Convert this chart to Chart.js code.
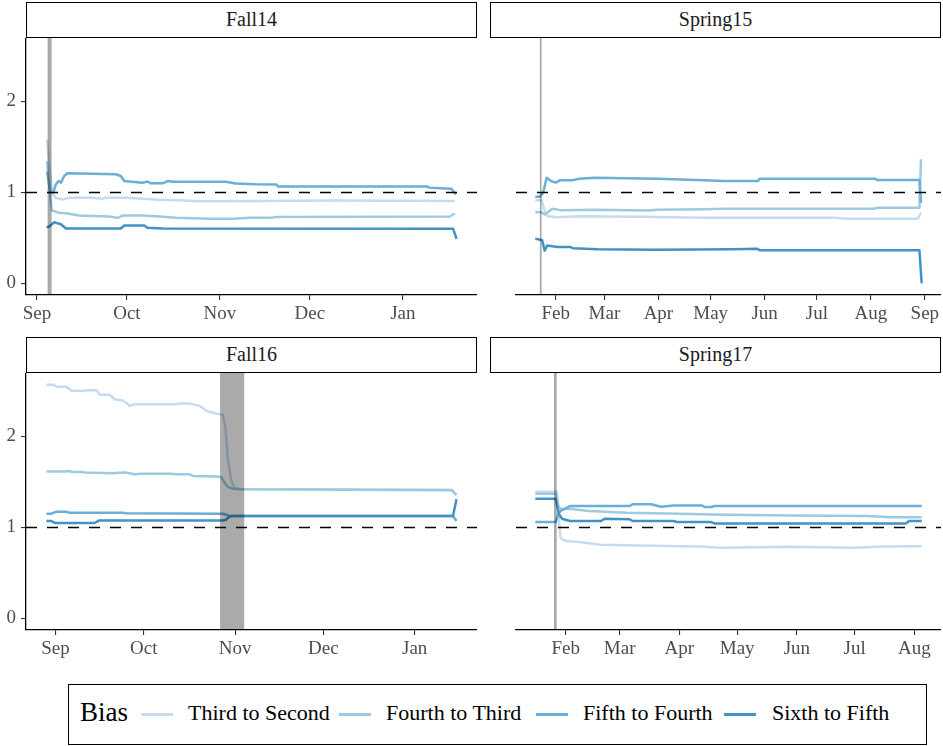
<!DOCTYPE html>
<html>
<head>
<meta charset="utf-8">
<script src="https://cdn.jsdelivr.net/npm/chart.js@4.4.1/dist/chart.umd.min.js"></script>
<style>
  html, body { margin: 0; padding: 0; background: #fff; }
  body { width: 943px; height: 746px; position: relative; overflow: hidden; }
  canvas { position: absolute; }
  .strip { position: absolute; box-sizing: border-box; border: 1.5px solid #000;
           background: #fff; color: #1a1a1a; font-size: 20px; text-align: center;
           line-height: 33px; height: 36px; }
  #legend { position: absolute; left: 68px; top: 684px; width: 859px; height: 61px;
            box-sizing: border-box; border: 1.3px solid #000; background: #fff; }
  #legend .title { position: absolute; left: 11px; top: 12px; font-size: 27px; color: #000; }
  #legend .swatch { position: absolute; top: 28px; width: 32px; height: 2.6px; }
  #legend .label { position: absolute; top: 15px; font-size: 22px; color: #000; white-space: nowrap; }
</style>
</head>
<body>

<div class="strip" style="left:26px; top:2px; width:451px;">Fall14</div>
<div class="strip" style="left:490px; top:2px; width:451px;">Spring15</div>
<div class="strip" style="left:26px; top:337px; width:451px;">Fall16</div>
<div class="strip" style="left:490px; top:337px; width:451px;">Spring17</div>

<canvas id="fall14" width="480" height="300" style="left:0; top:38px;"></canvas>
<canvas id="spring15" width="453" height="300" style="left:490px; top:38px;"></canvas>
<canvas id="fall16" width="480" height="300" style="left:0; top:373px;"></canvas>
<canvas id="spring17" width="453" height="300" style="left:490px; top:373px;"></canvas>

<div id="legend"><span class="title">Bias</span></div>

<script>
// Series names (legend order) and the reference level
const seriesNames = ['Third to Second', 'Fourth to Third', 'Fifth to Fourth', 'Sixth to Fifth'];
const referenceLevel = 1;

// Month ticks: days since the first of the semester's starting month
const fallMonthDays = [0, 30, 61, 91, 122];
const fallMonthLabels = ['Sep', 'Oct', 'Nov', 'Dec', 'Jan'];
const spring15MonthDays = [0, 28, 59, 89, 120, 150, 181, 212];
const spring15MonthLabels = ['Feb', 'Mar', 'Apr', 'May', 'Jun', 'Jul', 'Aug', 'Sep'];
const spring17MonthDays = [0, 28, 59, 89, 120, 150, 181];
const spring17MonthLabels = ['Feb', 'Mar', 'Apr', 'May', 'Jun', 'Jul', 'Aug'];
const yTickValues = [0, 1, 2];

// Shaded windows [start day, end day]
const fall14Band = [3.57, 4.9];
const spring15Band = [-9.1, -8.1];
const fall16Band = [55.9, 64.1];
const spring17Band = [-6.1, -4.7];

// Fall 2014 — [day since Sep 1, bias]
const fall14ThirdToSecond = [[3.4,1.58],[4.3,1.25],[5.3,0.98],[6.3,0.94],[8.6,0.923],[10.8,0.94],[18.6,0.94],[21.9,0.93],[23,0.942],[29.7,0.94],[40.8,0.92],[47.4,0.915],[54.1,0.904],[73,0.905],[100,0.91],[139.3,0.905]];
const fall14FourthToThird = [[3.4,1.345],[4.3,1.0],[5.0,0.80],[5.8,0.794],[7.4,0.776],[9.7,0.77],[14.1,0.746],[18.6,0.74],[24.1,0.735],[26.9,0.72],[28.6,0.746],[35.2,0.746],[40.8,0.735],[46.3,0.72],[57.4,0.71],[65.2,0.71],[71,0.72],[77.7,0.72],[79.9,0.73],[137.7,0.735],[139.3,0.768]];
const fall14FifthToFourth = [[3.4,1.228],[4.5,1.0],[5.5,1.0],[6.3,1.088],[7.2,1.125],[8.0,1.107],[9.1,1.18],[10.2,1.21],[26.3,1.2],[28.0,1.18],[29.1,1.125],[35.2,1.107],[36.9,1.12],[38.0,1.10],[41.9,1.10],[43.6,1.125],[45.2,1.117],[63,1.117],[66.3,1.098],[73,1.09],[79.9,1.088],[80.4,1.065],[129.9,1.065],[131,1.052],[138.2,1.04],[139.7,0.978]];
const fall14SixthToFifth = [[3.2,0.617],[4.1,0.625],[5.8,0.672],[6.9,0.66],[8.0,0.65],[9.7,0.603],[28.0,0.603],[29.1,0.636],[35.8,0.636],[36.9,0.61],[41.9,0.603],[138.8,0.60],[139.9,0.49]];

// Spring 2015 — [day since Feb 1, bias]
const spring15ThirdToSecond = [[-11.7,0.915],[-8.1,0.915],[-6.3,0.794],[-4.6,0.739],[0.9,0.728],[13.5,0.739],[49.5,0.732],[85.5,0.72],[160,0.72],[168.4,0.71],[208,0.71],[209.8,0.776]];
const spring15FourthToThird = [[-11.7,0.783],[-8.5,0.783],[-6.3,0.757],[-1.8,0.82],[2.7,0.805],[22.5,0.81],[53.1,0.80],[58.5,0.81],[85.5,0.816],[96,0.82],[183,0.82],[184.6,0.83],[208.9,0.83],[209.8,1.364]];
const spring15FifthToFourth = [[-11.7,0.953],[-9.0,0.953],[-7.2,0.997],[-5.2,1.162],[-2.7,1.125],[0,1.107],[2.7,1.135],[9.9,1.135],[13.5,1.15],[22.5,1.162],[58.5,1.15],[85.5,1.135],[96.4,1.125],[116.2,1.125],[117.1,1.15],[183.7,1.15],[184.6,1.136],[208.9,1.136],[209.8,0.886]];
const spring15SixthToFifth = [[-11.7,0.49],[-7.8,0.475],[-6.3,0.36],[-4.9,0.416],[0.9,0.40],[8.1,0.40],[9.9,0.387],[24.3,0.376],[56.7,0.37],[101.7,0.376],[116,0.379],[117.1,0.364],[208.9,0.364],[210.2,0.0]];

// Fall 2016 — [day since Sep 1, bias]
const fall16ThirdToSecond = [[-3.05,2.57],[-0.8,2.57],[0.34,2.547],[3.7,2.547],[5.4,2.503],[9.9,2.503],[11.1,2.51],[13.9,2.51],[15.0,2.459],[18.4,2.459],[20.1,2.41],[22.9,2.393],[24.1,2.37],[25.2,2.337],[26.9,2.356],[41.0,2.356],[42.1,2.363],[45.5,2.363],[48.9,2.337],[51.2,2.282],[54.6,2.253],[56.8,2.238],[57.7,2.1],[58.5,1.768],[59.7,1.51],[60.8,1.437],[62.5,1.422],[100,1.418],[134.5,1.415],[136.2,1.36]];
const fall16FourthToThird = [[-3.05,1.614],[3.4,1.614],[4.5,1.62],[5.7,1.61],[9.0,1.61],[10.0,1.603],[19.1,1.595],[23.6,1.603],[27,1.585],[29,1.59],[39,1.59],[41,1.585],[45.5,1.585],[46.6,1.566],[54.6,1.56],[56.3,1.555],[57.4,1.493],[58.5,1.446],[60.2,1.425],[62.5,1.42],[100,1.415],[134.5,1.41],[136.2,1.355]];
const fall16FifthToFourth = [[-3.05,1.151],[-1.4,1.151],[0.34,1.173],[3.7,1.173],[4.8,1.162],[22.9,1.162],[24.1,1.155],[56.8,1.151],[58.0,1.14],[59.1,1.125],[135,1.125],[136.2,1.07]];
const fall16SixthToFifth = [[-3.05,1.07],[-1.4,1.07],[0,1.048],[13.2,1.048],[14.9,1.077],[56.8,1.077],[58.0,1.085],[59.1,1.12],[60.2,1.125],[135,1.125],[136.2,1.31]];

// Spring 2017 — [day since Feb 1, bias]
const spring17ThirdToSecond = [[-15.8,1.393],[-4.7,1.393],[-3.6,1.1],[-2.8,0.9],[-2.0,0.868],[0.5,0.85],[7.0,0.84],[10.3,0.83],[18.4,0.81],[59.2,0.794],[70.6,0.79],[80.4,0.776],[116.3,0.787],[148.9,0.776],[165.2,0.79],[184.8,0.794]];
const spring17FourthToThird = [[-15.8,1.37],[-5.0,1.37],[-3.6,1.22],[-2.0,1.20],[2.2,1.206],[11.9,1.18],[31.5,1.162],[59.2,1.15],[75.5,1.143],[116.3,1.13],[157,1.125],[168.5,1.113],[184.8,1.113]];
const spring17FifthToFourth = [[-15.8,1.06],[-5.2,1.06],[-3.6,1.16],[-2.0,1.19],[2.2,1.235],[33.1,1.235],[34.7,1.254],[44.5,1.254],[49.4,1.228],[56.0,1.242],[70.6,1.242],[72.3,1.224],[75.5,1.224],[77.2,1.235],[184.8,1.235]];
const spring17SixthToFifth = [[-15.8,1.316],[-5.2,1.316],[-3.6,1.15],[-2.0,1.096],[2.2,1.07],[18.4,1.07],[20.1,1.096],[33.1,1.09],[34.7,1.07],[56.0,1.07],[57.6,1.059],[75.5,1.059],[77.2,1.044],[176.6,1.044],[178.3,1.07],[184.8,1.07]];

// ---- styling ----
const lineColors = ['#c6dbef', '#9ecae1', '#6baed6', '#4292c6'];
const tickColor = '#4d4d4d';
const serifStack = '"Liberation Serif", "Times New Roman", Tinos, "DejaVu Serif", "Noto Serif", Times, serif';

Chart.defaults.font.family = serifStack;
Chart.defaults.font.size = 19;
Chart.defaults.color = tickColor;

// same typeface for the strip headers and the legend
document.querySelectorAll('.strip, #legend, #legend .title').forEach(el => { el.style.fontFamily = serifStack; });

const panels = [
  { id: 'fall14', series: [fall14ThirdToSecond, fall14FourthToThird, fall14FifthToFourth, fall14SixthToFifth],
    ticks: fallMonthDays, labels: fallMonthLabels, band: fall14Band, showY: true },
  { id: 'spring15', series: [spring15ThirdToSecond, spring15FourthToThird, spring15FifthToFourth, spring15SixthToFifth],
    ticks: spring15MonthDays, labels: spring15MonthLabels, band: spring15Band, showY: false },
  { id: 'fall16', series: [fall16ThirdToSecond, fall16FourthToThird, fall16FifthToFourth, fall16SixthToFifth],
    ticks: fallMonthDays, labels: fallMonthLabels, band: fall16Band, showY: true },
  { id: 'spring17', series: [spring17ThirdToSecond, spring17FourthToThird, spring17FifthToFourth, spring17SixthToFifth],
    ticks: spring17MonthDays, labels: spring17MonthLabels, band: spring17Band, showY: false }
];

// shared y range with 5% expansion on each side
const allY = panels.flatMap(p => p.series.flatMap(s => s.map(pt => pt[1])));
const yLo = Math.min(...allY), yHi = Math.max(...allY);
const yPad = (yHi - yLo) * 0.05;

// shaded window drawn over the lines
const bandPlugin = {
  id: 'shadeWindow',
  afterDatasetsDraw(chart, args, opts) {
    const { ctx, chartArea, scales } = chart;
    const x0 = scales.x.getPixelForValue(opts.range[0]);
    const x1 = scales.x.getPixelForValue(opts.range[1]);
    ctx.save();
    ctx.fillStyle = 'rgba(0,0,0,0.335)';
    ctx.fillRect(x0, chartArea.top, x1 - x0, chartArea.bottom - chartArea.top);
    ctx.restore();
  }
};

// keep the plot area fixed: no extra room for overhanging tick labels
const noOverhang = sc => { sc.paddingTop = 0; sc.paddingBottom = 0; sc.paddingLeft = 0; sc.paddingRight = 0; };

panels.forEach(p => {
  const allX = p.series.flatMap(s => s.map(pt => pt[0]));
  const xLo = Math.min(...allX), xHi = Math.max(...allX);
  const xPad = (xHi - xLo) * 0.05;
  const xMin = xLo - xPad, xMax = xHi + xPad;

  const seriesSets = p.series.map((s, i) => ({
    label: seriesNames[i],
    data: s.map(([x, y]) => ({ x, y })),
    borderColor: lineColors[i],
    borderWidth: 2.5,
    pointRadius: 0,
    tension: 0,
    borderJoinStyle: 'round',
    fill: false
  })).reverse();

  const refLine = {
    label: 'reference',
    data: [{ x: xMin, y: referenceLevel }, { x: xMax, y: referenceLevel }],
    borderColor: '#000',
    borderWidth: 1.5,
    borderDash: [11, 10],
    pointRadius: 0,
    fill: false
  };

  new Chart(document.getElementById(p.id), {
    type: 'line',
    data: { datasets: [refLine, ...seriesSets] },
    plugins: [bandPlugin],
    options: {
      responsive: false,
      animation: false,
      devicePixelRatio: 1,
      layout: { padding: { left: 0, right: p.showY ? 3 : 2, top: 0, bottom: 0 }, autoPadding: false },
      plugins: { legend: { display: false }, tooltip: { enabled: false }, shadeWindow: { range: p.band } },
      scales: {
        x: {
          type: 'linear', min: xMin, max: xMax,
          afterBuildTicks: sc => { sc.ticks = p.ticks.map(v => ({ value: v })); },
          afterFit: sc => { sc.height = 43; noOverhang(sc); },
          ticks: { autoSkip: false, maxRotation: 0, padding: 3, color: tickColor,
                   callback: (v, i) => p.labels[i] },
          grid: { drawOnChartArea: false, drawTicks: true, tickLength: 5, color: '#333', lineWidth: 1.1 },
          border: { display: true, color: '#000', width: 1.3 }
        },
        y: {
          type: 'linear', display: p.showY, min: yLo - yPad, max: yHi + yPad,
          afterBuildTicks: sc => { sc.ticks = yTickValues.map(v => ({ value: v })); },
          afterFit: sc => { sc.width = 26; noOverhang(sc); },
          ticks: { padding: 5, color: tickColor },
          grid: { drawOnChartArea: false, drawTicks: true, tickLength: 5, color: '#333', lineWidth: 1.1 },
          border: { display: true, color: '#000', width: 1.3 }
        }
      }
    }
  });
});

// legend row
const legend = document.getElementById('legend');
const swatchLeft = [72, 270, 467, 655];
const labelLeft = [119, 317, 514, 703];
seriesNames.forEach((name, i) => {
  const sw = document.createElement('div');
  sw.className = 'swatch';
  sw.style.left = swatchLeft[i] + 'px';
  sw.style.background = lineColors[i];
  legend.appendChild(sw);
  const lb = document.createElement('span');
  lb.className = 'label';
  lb.style.left = labelLeft[i] + 'px';
  lb.style.fontFamily = serifStack;
  lb.textContent = name;
  legend.appendChild(lb);
});
</script>
</body>
</html>
